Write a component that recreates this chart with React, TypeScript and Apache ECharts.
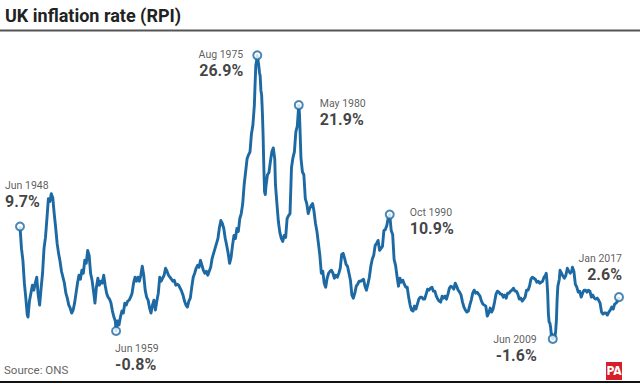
import { useEffect, useRef } from "react";
import * as echarts from "echarts";

const dates: string[] = [
  "1948-06","1948-08","1948-10","1948-12","1949-02","1949-04","1949-05","1949-07","1949-09","1949-11",
  "1950-01","1950-03","1950-05","1950-07","1950-09","1950-11","1951-01","1951-03","1951-05","1951-07",
  "1951-09","1951-11","1952-01","1952-03","1952-05","1952-07","1952-09","1952-11","1953-01","1953-03",
  "1953-05","1953-07","1953-09","1953-11","1954-01","1954-03","1954-05","1954-07","1954-09","1954-11",
  "1955-01","1955-03","1955-05","1955-07","1955-09","1955-11","1956-01","1956-03","1956-05","1956-07",
  "1956-09","1956-11","1957-01","1957-03","1957-05","1957-07","1957-09","1957-11","1958-01","1958-03",
  "1958-05","1958-07","1958-09","1958-11","1959-01","1959-03","1959-05","1959-06","1959-08","1959-10",
  "1959-12","1960-02","1960-04","1960-06","1960-08","1960-10","1960-12","1961-02","1961-04","1961-06",
  "1961-08","1961-10","1961-12","1962-02","1962-04","1962-06","1962-08","1962-10","1962-12","1963-02",
  "1963-04","1963-06","1963-08","1963-10","1963-12","1964-02","1964-04","1964-06","1964-08","1964-10",
  "1964-12","1965-02","1965-04","1965-06","1965-08","1965-10","1965-12","1966-02","1966-04","1966-06",
  "1966-08","1966-10","1966-12","1967-02","1967-04","1967-06","1967-08","1967-10","1967-12","1968-02",
  "1968-04","1968-06","1968-08","1968-10","1968-12","1969-02","1969-04","1969-06","1969-08","1969-10",
  "1969-12","1970-02","1970-04","1970-06","1970-08","1970-10","1970-12","1971-02","1971-04","1971-06",
  "1971-08","1971-10","1971-12","1972-02","1972-04","1972-06","1972-08","1972-10","1972-12","1973-02",
  "1973-04","1973-06","1973-08","1973-10","1973-12","1974-02","1974-04","1974-06","1974-08","1974-10",
  "1974-12","1975-02","1975-04","1975-05","1975-06","1975-07","1975-08","1975-09","1975-10","1975-11",
  "1975-12","1976-01","1976-02","1976-03","1976-04","1976-05","1976-06","1976-07","1976-08","1976-10",
  "1976-12","1977-02","1977-04","1977-06","1977-08","1977-09","1977-11","1978-01","1978-03","1978-05",
  "1978-07","1978-09","1978-11","1979-01","1979-03","1979-05","1979-07","1979-09","1979-11","1980-01",
  "1980-03","1980-05","1980-06","1980-08","1980-10","1980-12","1981-02","1981-04","1981-06","1981-08",
  "1981-10","1981-12","1982-02","1982-04","1982-06","1982-08","1982-10","1982-12","1983-02","1983-04",
  "1983-06","1983-08","1983-10","1983-12","1984-02","1984-04","1984-06","1984-08","1984-10","1984-12",
  "1985-02","1985-04","1985-06","1985-08","1985-10","1985-12","1986-02","1986-04","1986-06","1986-08",
  "1986-10","1986-12","1987-02","1987-04","1987-06","1987-08","1987-10","1987-12","1988-02","1988-04",
  "1988-06","1988-08","1988-10","1988-12","1989-02","1989-04","1989-06","1989-08","1989-10","1989-12",
  "1990-02","1990-04","1990-06","1990-08","1990-10","1990-12","1991-02","1991-04","1991-06","1991-08",
  "1991-10","1991-12","1992-02","1992-04","1992-06","1992-08","1992-10","1992-12","1993-02","1993-04",
  "1993-06","1993-08","1993-10","1993-12","1994-02","1994-04","1994-06","1994-08","1994-10","1994-12",
  "1995-02","1995-04","1995-06","1995-08","1995-10","1995-12","1996-02","1996-04","1996-06","1996-08",
  "1996-10","1996-12","1997-02","1997-04","1997-06","1997-08","1997-10","1997-12","1998-02","1998-04",
  "1998-06","1998-08","1998-10","1998-12","1999-02","1999-04","1999-06","1999-08","1999-10","1999-12",
  "2000-02","2000-04","2000-06","2000-08","2000-10","2000-12","2001-02","2001-04","2001-06","2001-08",
  "2001-10","2001-12","2002-02","2002-04","2002-06","2002-08","2002-10","2002-12","2003-02","2003-04",
  "2003-06","2003-08","2003-10","2003-12","2004-02","2004-04","2004-06","2004-08","2004-10","2004-12",
  "2005-02","2005-04","2005-06","2005-08","2005-10","2005-12","2006-02","2006-04","2006-06","2006-08",
  "2006-10","2006-12","2007-02","2007-04","2007-06","2007-08","2007-10","2007-12","2008-02","2008-04",
  "2008-06","2008-08","2008-09","2008-10","2008-11","2008-12","2009-01","2009-02","2009-03","2009-04",
  "2009-05","2009-06","2009-07","2009-08","2009-09","2009-10","2009-11","2009-12","2010-01","2010-03",
  "2010-04","2010-06","2010-08","2010-10","2010-12","2011-02","2011-04","2011-06","2011-08","2011-09",
  "2011-11","2012-01","2012-03","2012-05","2012-07","2012-09","2012-11","2013-01","2013-03","2013-05",
  "2013-07","2013-09","2013-11","2014-01","2014-03","2014-05","2014-07","2014-09","2014-11","2015-01",
  "2015-03","2015-05","2015-07","2015-09","2015-11","2016-01","2016-03","2016-05","2016-07","2016-09",
  "2016-11","2017-01"
];

const values: number[] = [
  9.7,7.5,6.3,4.0,2.5,0.8,0.6,2.2,3.0,3.8,
  3.3,4.0,4.6,2.8,1.8,3.5,5.0,7.5,8.6,10.5,
  12.5,12.2,13.0,12.6,11.0,9.6,8.0,7.0,6.2,5.2,
  4.6,4.0,3.0,2.5,1.8,1.5,1.0,1.3,2.0,3.0,
  4.0,4.8,4.4,5.3,5.0,6.3,6.0,7.3,6.8,5.0,
  4.3,3.2,2.0,3.6,4.5,3.8,4.2,4.0,4.8,3.8,
  3.0,2.6,2.4,2.0,1.2,0.6,0.2,-0.8,0.2,-0.2,
  0.6,1.2,1.0,2.0,1.8,2.2,2.3,2.6,3.0,4.0,
  4.6,4.2,4.6,4.2,4.8,5.7,4.8,3.3,2.6,2.3,
  1.5,1.0,1.8,2.3,1.3,2.2,3.0,4.6,4.2,4.5,
  4.8,5.5,5.2,4.8,4.6,4.4,4.2,4.3,3.8,3.9,
  3.8,3.5,3.2,2.8,2.2,1.8,1.6,2.2,2.5,3.6,
  4.6,5.0,5.5,5.8,5.6,6.3,5.8,5.3,5.0,5.2,
  4.8,5.2,5.6,6.5,7.0,7.5,8.0,8.5,9.6,10.3,
  10.0,9.5,8.5,7.8,7.0,6.0,6.6,7.8,8.8,8.5,
  9.5,9.2,10.5,11.0,12.0,13.9,15.2,16.5,16.9,17.2,
  19.0,19.9,21.9,24.0,25.9,26.3,26.9,26.4,25.9,25.2,
  24.8,23.4,22.9,21.2,18.9,15.7,13.2,12.9,13.8,14.9,
  15.1,16.2,17.2,17.6,16.5,13.9,12.0,10.2,9.1,8.5,
  8.2,8.8,8.6,10.5,10.8,11.0,15.6,16.6,17.2,19.2,
  19.8,21.9,21.0,16.6,15.2,14.9,12.5,12.0,11.0,11.5,
  11.8,12.0,11.2,10.0,9.2,8.0,6.8,5.0,5.2,4.0,
  3.6,4.5,5.0,5.2,5.3,5.0,4.5,4.8,4.6,5.0,
  5.5,6.9,7.0,6.5,5.9,5.7,5.0,4.3,2.8,2.5,
  3.0,3.7,3.9,4.2,4.2,4.3,4.4,3.7,3.3,3.9,
  4.6,5.7,6.4,6.8,7.8,8.0,8.3,7.3,7.5,7.7,
  9.3,9.4,9.8,10.6,10.9,9.3,8.9,6.4,5.8,4.7,
  3.7,4.5,4.1,4.3,3.9,3.6,3.6,2.6,1.8,1.3,
  1.2,1.7,1.4,1.9,2.4,2.6,2.6,2.4,2.4,2.9,
  3.4,3.3,3.5,3.6,3.2,3.2,2.7,2.4,2.2,2.1,
  2.7,2.5,2.7,2.4,2.9,3.5,3.7,3.6,3.4,4.0,
  3.7,3.3,3.1,2.8,2.1,1.6,1.3,1.1,1.2,1.8,
  2.3,3.0,3.3,3.0,3.1,2.9,2.7,2.2,1.9,1.8,
  1.7,0.7,1.0,1.5,1.1,1.4,2.1,2.9,3.2,3.1,
  2.9,2.9,2.6,2.8,2.5,3.0,3.0,3.2,3.3,3.5,
  3.2,3.2,2.9,2.4,2.5,2.2,2.4,2.6,3.3,3.3,
  3.7,4.4,4.6,4.5,4.4,4.1,4.2,4.0,4.1,4.2,
  4.6,4.8,5.0,4.2,3.0,0.9,0.1,0.0,-0.4,-1.2,
  -1.1,-1.6,-1.4,-1.3,-1.4,-0.8,0.3,2.4,3.7,4.4,
  5.3,5.0,4.7,4.5,4.8,5.5,5.2,5.0,5.2,5.6,
  5.2,3.9,3.6,3.1,3.2,2.6,3.0,3.3,3.3,3.1,
  3.3,3.2,2.6,2.8,2.5,2.4,2.5,2.3,2.0,1.1,
  0.9,1.0,1.0,0.8,1.1,1.3,1.6,1.4,1.9,2.0,
  2.2,2.6
];

const highlightDates: string[] = ["1948-06", "1959-06", "1975-08", "1980-05", "1990-10", "2009-06", "2017-01"];
const highlightNames: string[] = ["Jun 1948", "Jun 1959", "Aug 1975", "May 1980", "Oct 1990", "Jun 2009", "Jan 2017"];
const highlightValues: number[] = [9.7, -0.8, 26.9, 21.9, 10.9, -1.6, 2.6];

const labelLayouts = [
  { align: "left", verticalAlign: "bottom", offset: [-15, -16] },
  { align: "left", verticalAlign: "top", offset: [-1, 11] },
  { align: "right", verticalAlign: "top", offset: [-14, -8] },
  { align: "left", verticalAlign: "top", offset: [21, -9] },
  { align: "left", verticalAlign: "top", offset: [20, -9] },
  { align: "right", verticalAlign: "top", offset: [-16, -6] },
  { align: "right", verticalAlign: "bottom", offset: [3, -14] },
];

const BLUE = "#1d69a3";
const FONT = "Roboto, 'Noto Sans', sans-serif";

function toYear(d: string): number {
  const [y, m] = d.split("-").map(Number);
  return y + (m - 1) / 12;
}

export default function App() {
  const ref = useRef<HTMLDivElement>(null);
  useEffect(() => {
    document.body.style.margin = "0";
    if (!ref.current) return;
    const chart = echarts.init(ref.current, undefined, { renderer: "svg" });
    const lineData = dates.map((d, i) => [toYear(d), values[i]]);
    const pointData = highlightDates.map((d, i) => {
      const lay = labelLayouts[i];
      return {
        value: [toYear(d), highlightValues[i]],
        name: highlightNames[i],
        label: {
          show: true,
          position: "inside",
          align: lay.align,
          verticalAlign: lay.verticalAlign,
          offset: lay.offset,
          formatter: `{d|${highlightNames[i]}}\n{v|${highlightValues[i].toFixed(1)}%}`,
          rich: {
            d: { fontSize: 10.5, color: "#333", fontFamily: FONT, lineHeight: 14, align: lay.align },
            v: { fontSize: 16, fontWeight: "bold", color: "#111", fontFamily: FONT, lineHeight: 18, align: lay.align },
          },
        },
      };
    });
    chart.setOption({
      animation: false,
      backgroundColor: "#fff",
      grid: { left: 20, right: 21, top: 44.4, bottom: 41.1, containLabel: false },
      xAxis: { type: "value", min: 1948 + 5 / 12, max: 2017, show: false },
      yAxis: { type: "value", min: -2, max: 28, show: false },
      series: [
        {
          type: "line",
          data: lineData,
          showSymbol: false,
          symbol: "none",
          lineStyle: { color: BLUE, width: 2.9, join: "round" },
          z: 2,
        },
        {
          type: "scatter",
          data: pointData,
          symbol: "circle",
          symbolSize: 8,
          itemStyle: { color: "#fff", borderColor: BLUE, borderWidth: 2 },
          z: 3,
        },
      ],
      graphic: [
        {
          type: "text",
          left: 5,
          top: 6,
          style: { text: "UK inflation rate (RPI)", fontSize: 18, fontWeight: "bold", fill: "#222", fontFamily: FONT },
        },
        { type: "rect", shape: { x: 0, y: 29.5, width: 640, height: 2 }, style: { fill: "#555" } },
        {
          type: "text",
          left: 4,
          top: 364,
          style: { text: "Source: ONS", fontSize: 11.5, fill: "#666", fontFamily: FONT },
        },
        { type: "rect", shape: { x: 0, y: 381, width: 640, height: 2 }, style: { fill: "#111" } },
        { type: "rect", shape: { x: 606, y: 362, width: 16, height: 18 }, style: { fill: "#d71f2b" } },
        {
          type: "text",
          x: 614,
          y: 371,
          style: {
            text: "PA",
            fontSize: 12,
            fontWeight: "bold",
            fill: "#fff",
            fontFamily: "'Liberation Sans Narrow', 'DejaVu Sans Condensed', Roboto, sans-serif",
            align: "center",
            verticalAlign: "middle",
          },
        },
      ],
    });
    return () => chart.dispose();
  }, []);
  return <div ref={ref} style={{ width: 640, height: 384, position: "fixed", left: 0, top: 0 }} />;
}
